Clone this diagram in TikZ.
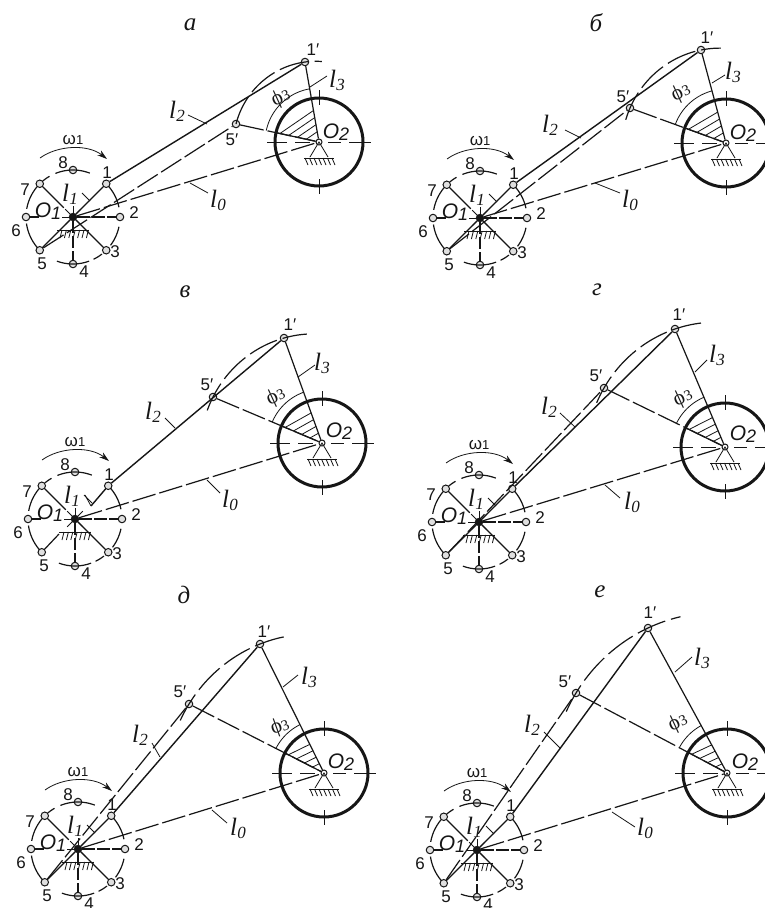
\documentclass[tikz,border=0pt]{standalone}
\usepackage{fontspec}
\setmainfont{Liberation Serif}
\newfontfamily\sansf{Liberation Sans}
\usetikzlibrary{arrows.meta}
\definecolor{ink}{HTML}{161616}
\tikzset{
  pivot/.style={circle,draw=ink,fill=black!12,line width=1pt,inner sep=0pt,minimum size=7.5pt},
  hub/.style={circle,draw=ink,fill=ink,inner sep=0pt,minimum size=8pt},
  wheel/.style={circle,draw=ink,line width=3pt,inner sep=0pt,minimum size=88pt},
  link/.style={draw=ink,line width=1.2pt},
  rod/.style={draw=ink,line width=1.4pt},
  thinl/.style={draw=ink,line width=0.8pt},
  longdash/.style={draw=ink,line width=1.2pt,dash pattern=on 24pt off 4pt},
  arcdash/.style={draw=ink,line width=1.2pt,dash pattern=on 30pt off 6pt},
  cross/.style={draw=ink,line width=0.9pt},
  digit/.style={inner sep=0pt,font=\sansf\fontsize{17}{17}\selectfont,text=ink},
  title/.style={inner sep=0pt,font=\itshape\fontsize{25}{25}\selectfont,text=ink},
  lbl/.style={inner sep=0pt,text=ink}
}
\newcommand\lsym[1]{{\fontsize{25}{25}\selectfont\itshape l\kern0.5pt\raisebox{-3pt}{\fontsize{17}{17}\selectfont #1}}}
\newcommand\osym[1]{{\sansf\itshape\fontsize{21}{21}\selectfont O\raisebox{-2pt}{\fontsize{18}{18}\selectfont #1}}}
\newcommand\phisym{{\fontsize{21}{21}\selectfont ϕ\fontsize{15}{15}\selectfont 3}}
\newcommand\omsym{{\sansf\fontsize{17}{17}\selectfont ω\fontsize{13}{13}\selectfont 1}}
\newcommand\crarc[2]{\draw[link] plot[smooth,samples=8,domain=#1:#2,variable=\t] ({47*cos(\t)},{47*sin(\t)});}
\newif\ifplain
\plainfalse
\def\arcext{7}
% #1 name, #2 #3 O1, #4 #5 O2, #6 #7 point 1', #8 #9 point 5'
\newcommand\panel[9]{%
  \pgfmathsetmacro\aone{atan2(#7-#5,#6-#4)}%
  \pgfmathsetmacro\afive{atan2(#9-#5,#8-#4)}%
  \pgfmathsetmacro\rone{veclen(#7-#5,#6-#4)}%
  \pgfmathsetmacro\rfive{veclen(#9-#5,#8-#4)}%
  \node[hub] (#1O1) at (#2,#3) {};
  \node[wheel] (#1W) at (#4,#5) {};
  \node[pivot,minimum size=6pt,fill=white] (#1O2) at (#4,#5) {};
  \node[pivot] (#1P1) at (#6,#7) {};
  \node[pivot] (#1P5) at (#8,#9) {};
  % crank
  \begin{scope}[shift={(#2,#3)}]
    \foreach \n/\a in {1/-45,2/0,3/45,4/90,5/135,6/180,7/-135,8/-90}
      \node[pivot] (#1n\n) at (\a:47) {};
    \foreach \a in {-90,-45,0,45,90,135,180,-135}
      \draw[thinl] (0,0) -- (\a:11);
    \ifplain\else
      \draw[link] (#1O1) -- (#1n1);
      \draw[link] (#1O1) -- (#1n5);
    \fi
    \draw[link,dash pattern=on 13pt off 2pt] (#1O1) -- (#1n2);
    \draw[link] (#1O1) -- (#1n3);
    \draw[link,dash pattern=on 12pt off 3pt] (#1O1) -- (#1n4);
    \coordinate (#1s6) at (180:34);
    \draw[link] (#1s6) -- (#1n6);
    \coordinate (#1s7) at (-135:13);
    \draw[link] (#1s7) -- (#1n7);
    \crarc{-112}{-69}\crarc{-41}{-12}\crarc{12}{37}\crarc{52}{64}
    \crarc{70}{110}\crarc{139}{172}\crarc{-170}{-140}\crarc{-130}{-120}
    % support
    \draw[thinl] (-16,13) -- (16,13);
    \foreach \h in {-13,-8.6,-4.2,0.2,4.6,9,13.4}
      \draw[thinl] (\h+2,13) -- (\h,21);
    % omega arrow
    \coordinate (#1oma) at (-33,-59);
    \coordinate (#1omb) at (34,-58);
    \draw[thinl,-{Stealth[length=10pt,width=6pt]}] (#1oma) .. controls (-15,-72) and (15,-73) .. (#1omb);
    \node[lbl] (#1om) at (0,-77) {\omsym};
    \node[lbl] (#1oname) at (-25,-6) {\osym{1}};
    \node[lbl] (#1lone) at (-3,-23) {\lsym{1}};
    \coordinate (#1la) at (9,-24);
    \coordinate (#1lb) at (17,-16);
    \draw[thinl] (#1la) -- (#1lb);
    \node[digit] (#1d1) at (34,-44) {1};
    \node[digit] (#1d2) at (61,-4) {2};
    \node[digit] (#1d3) at (42,35) {3};
    \node[digit] (#1d4) at (11,55) {4};
    \node[digit] (#1d5) at (-31,47) {5};
    \node[digit] (#1d6) at (-57,14) {6};
    \node[digit] (#1d7) at (-48,-27) {7};
    \node[digit] (#1d8) at (-10,-54) {8};
  \end{scope}
  % rocker side
  \draw[longdash] (#1O1) -- (#1O2);
  \draw[link] (#1O2) -- (#1P1);
  \draw[longdash] (#1P5) -- (#1O2);
  \draw[rod] (#1n1) -- (#1P1);
  \ifplain\else\draw[longdash] (#1n5) -- (#1P5);\fi
  \begin{scope}[shift={(#4,#5)}]
    \coordinate (#1hin) at (\afive:44);
    \draw[link] (#1hin) -- (#1O2);
    \foreach \r in {40,31,22,13}
      \draw[thinl] (\afive:\r) -- (\aone:0.8*\r);
    \draw[thinl] plot[smooth,samples=14,domain=\afive:\aone,variable=\t] ({54*cos(\t)},{54*sin(\t)});
    \draw[arcdash] plot[smooth,samples=26,domain=\afive-\arcext:\aone+12,variable=\t]
      ({(\rfive+(\rone-\rfive)*(\t-\afive)/(\aone-\afive))*cos(\t)},{(\rfive+(\rone-\rfive)*(\t-\afive)/(\aone-\afive))*sin(\t)});
    % centre cross
    \foreach \p/\q in {-52/-32,-24/-9,9/22,30/52}
      \draw[cross] (\p,0) -- (\q,0);
    \draw[cross] (0,-52) -- (0,-37);
    \draw[cross] (0,37) -- (0,52);
    % support
    \draw[thinl] (-9,15) -- (0,0) -- (9,15);
    \draw[thinl] (-15,16) -- (15,16);
    \foreach \h in {-14,-9.5,-5,-0.5,4,8.5,13}
      \draw[thinl] (\h,16) -- (\h+3,23);
  \end{scope}
}
% #1 name, #2 l2 label, #3 #4 leader, #5 l3 label, #6 #7 leader
\newcommand\annotA[7]{%
  \node[lbl] (#1ltwo) at (#2) {\lsym{2}};
  \coordinate (#1l2a) at (#3); \coordinate (#1l2b) at (#4);
  \draw[thinl] (#1l2a) -- (#1l2b);
  \node[lbl] (#1lthree) at (#5) {\lsym{3}};
  \coordinate (#1l3a) at (#6); \coordinate (#1l3b) at (#7);
  \draw[thinl] (#1l3a) -- (#1l3b);
}
% #1 name, #2 phi label, #3 angle, #4 l0 label, #5 #6 leader, #7 1' label, #8 5' label, #9 O2 label
\newcommand\annotB[9]{%
  \node[lbl,rotate=#3] (#1phi) at (#2) {\phisym};
  \node[lbl] (#1lzero) at (#4) {\lsym{0}};
  \coordinate (#1l0a) at (#5); \coordinate (#1l0b) at (#6);
  \draw[thinl] (#1l0a) -- (#1l0b);
  \node[digit] (#1dp1) at (#7) {1′};
  \node[digit] (#1dp5) at (#8) {5′};
  \node[lbl] (#1oname2) at (#9) {\osym{2}};
}
\begin{document}
\begin{tikzpicture}[x=1pt,y=-1pt]
\useasboundingbox (0,0) rectangle (764,908);
\fill[white] (0,0) rectangle (764,908);
% a
\def\arcext{0}
\panel{a}{73}{217}{319}{142}{305}{62}{236}{124}
\def\arcext{7}
\annotA{a}{177,111}{188,115}{207,124}{337,80}{327,76}{310,87}
\annotB{a}{281,98}{25}{218,200}{208,193}{190,183}{313,50}{232,140}{336,132}
\node[title] (ta) at (190,25) {а};
% b
\panel{b}{480}{218}{726}{143}{701}{50}{630}{108}
\annotA{b}{550,125}{565,130}{581,138}{733,72}{725,75}{712,83}
\annotB{b}{681,93}{25}{630,200}{620,193}{595,183}{707,38}{623,97}{743,133}
\node[title] (tb) at (596,23) {б};
% v
\plaintrue
\panel{c}{75}{519}{322}{443}{284}{338}{213}{397}
\plainfalse
\annotA{c}{153,412}{165,418}{175,428}{322,363}{315,365}{298,377}
\annotB{c}{276,397}{25}{230,500}{220,493}{207,480}{290,325}{207,385}{339,431}
\coordinate (cK1) at (91,506);
\coordinate (cK2) at (85,495);
\coordinate (cK3) at (59,534);
\draw[rod] (cn1) -- (cK1);
\draw[thinl] (cK1) -- (cK2);
\draw[link] (cn5) -- (cK3);
\node[title] (tc) at (185,292) {в};
% g
\panel{d}{479}{522}{725}{447}{675}{329}{604}{388}
\annotA{d}{549,407}{560,413}{575,427}{717,355}{707,360}{695,372}
\annotB{d}{683,398}{25}{632,502}{620,498}{605,485}{679,315}{596,376}{743,434}
\node[title] (td) at (597,290) {г};
% d
\panel{e}{78}{849}{324}{773}{260}{644}{189}{704}
\annotA{e}{140,735}{152,743}{160,757}{309,677}{298,675}{283,687}
\annotB{e}{280,727}{20}{238,828}{227,823}{212,810}{264,632}{180,692}{341,762}
\node[title] (te) at (184,595) {д};
% e
\panel{f}{477}{850}{727}{773}{648}{628}{576}{693}
\annotA{f}{532,725}{544,732}{560,748}{702,658}{692,657}{675,672}
\annotB{f}{678,723}{25}{645,828}{635,827}{612,812}{650,613}{565,682}{745,762}
\node[title] (tf) at (600,592) {е};
\end{tikzpicture}
\end{document}
